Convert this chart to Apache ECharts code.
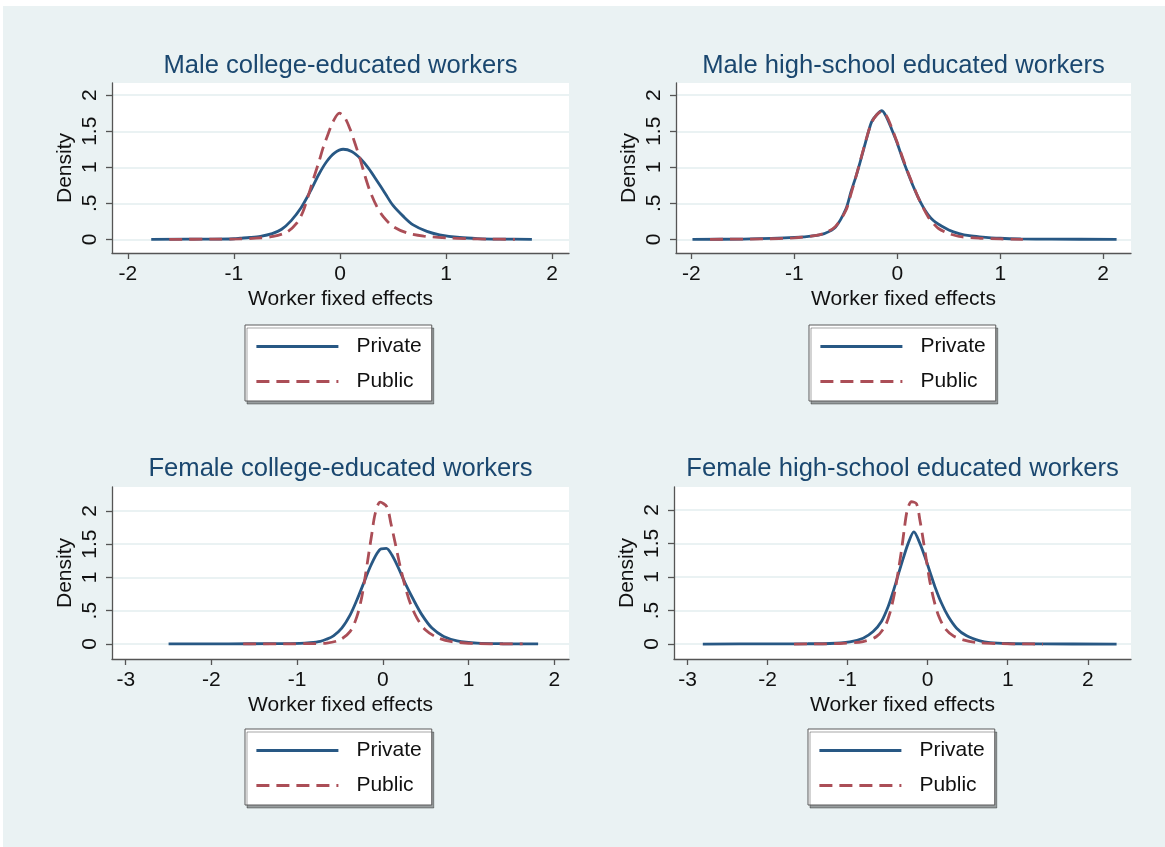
<!DOCTYPE html>
<html>
<head>
<meta charset="utf-8">
<script src="https://cdn.jsdelivr.net/npm/echarts@6/dist/echarts.min.js"></script>
<style>
html,body{margin:0;padding:0;background:#fff;}
#chart{width:1165px;height:847px;}
</style>
</head>
<body>
<div id="chart"></div>
<script>
// ---------------- DATA ----------------
const panelTitles = [
  'Male college-educated workers',
  'Male high-school educated workers',
  'Female college-educated workers',
  'Female high-school educated workers'
];
const seriesNames = ['Private', 'Public'];
const xAxisName = 'Worker fixed effects';
const yAxisName = 'Density';
const xTicksTop = [-2, -1, 0, 1, 2];
const xTicksBottom = [-3, -2, -1, 0, 1, 2];
const yTicks = [0, 0.5, 1, 1.5, 2];

// [worker fixed effect, density]
const maleCollegePrivate = [[-1.78,0],[-1.2,0.003],[-1.0,0.008],[-0.94,0.015],[-0.85,0.025],[-0.75,0.042],[-0.64,0.08],[-0.55,0.14],[-0.46,0.26],[-0.37,0.43],[-0.28,0.665],[-0.2,0.9],[-0.125,1.08],[-0.05,1.2],[0.03,1.25],[0.11,1.22],[0.19,1.125],[0.27,0.985],[0.35,0.81],[0.425,0.64],[0.5,0.47],[0.6,0.315],[0.69,0.2],[0.82,0.11],[0.94,0.063],[1.13,0.025],[1.3,0.01],[1.5,0.003],[1.81,0]];
const maleCollegePublic = [[-1.61,0],[-1.2,0.002],[-0.95,0.006],[-0.79,0.016],[-0.63,0.04],[-0.5,0.1],[-0.41,0.22],[-0.35,0.38],[-0.3,0.6],[-0.25,0.84],[-0.2,1.07],[-0.157,1.28],[-0.11,1.47],[-0.063,1.64],[-0.006,1.752],[0.048,1.683],[0.095,1.53],[0.142,1.33],[0.189,1.12],[0.236,0.88],[0.283,0.67],[0.346,0.46],[0.41,0.31],[0.5,0.18],[0.63,0.09],[0.79,0.045],[1.0,0.02],[1.2,0.009],[1.4,0.003],[1.65,0]];
const maleHighPrivate = [[-1.99,0],[-1.5,0.003],[-1.1,0.02],[-0.9,0.035],[-0.8,0.05],[-0.7,0.085],[-0.6,0.17],[-0.5,0.42],[-0.45,0.66],[-0.4,0.88],[-0.35,1.13],[-0.3,1.39],[-0.25,1.63],[-0.2,1.73],[-0.15,1.785],[-0.1,1.68],[-0.05,1.51],[0,1.33],[0.05,1.12],[0.1,0.93],[0.15,0.75],[0.2,0.59],[0.25,0.45],[0.3,0.34],[0.35,0.26],[0.4,0.21],[0.5,0.13],[0.6,0.08],[0.7,0.05],[0.8,0.035],[1.0,0.015],[1.2,0.006],[1.5,0.002],[2.13,0]];
const maleHighPublic = [[-1.82,0],[-1.3,0.006],[-1.0,0.02],[-0.8,0.05],[-0.7,0.09],[-0.6,0.18],[-0.5,0.4],[-0.45,0.63],[-0.4,0.88],[-0.35,1.14],[-0.3,1.4],[-0.25,1.62],[-0.2,1.73],[-0.15,1.78],[-0.1,1.7],[-0.05,1.53],[0,1.34],[0.05,1.14],[0.1,0.94],[0.15,0.76],[0.2,0.59],[0.25,0.44],[0.3,0.31],[0.35,0.22],[0.4,0.15],[0.5,0.08],[0.6,0.04],[0.8,0.015],[1.0,0.005],[1.22,0]];
const femaleCollegePrivate = [[-2.5,0],[-1.8,0.002],[-1.3,0.005],[-0.97,0.01],[-0.85,0.02],[-0.73,0.04],[-0.66,0.07],[-0.577,0.123],[-0.48,0.238],[-0.382,0.437],[-0.304,0.66],[-0.226,0.91],[-0.148,1.16],[-0.07,1.36],[-0.02,1.43],[0.04,1.435],[0.105,1.336],[0.183,1.136],[0.26,0.91],[0.358,0.66],[0.455,0.437],[0.572,0.238],[0.708,0.113],[0.864,0.048],[1.1,0.013],[1.4,0.003],[1.81,0]];
const femaleCollegePublic = [[-1.63,0],[-1.1,0.002],[-0.8,0.006],[-0.655,0.013],[-0.5,0.063],[-0.382,0.188],[-0.304,0.41],[-0.246,0.71],[-0.207,1.01],[-0.168,1.336],[-0.129,1.66],[-0.09,1.96],[-0.032,2.13],[0.046,2.06],[0.093,1.81],[0.144,1.51],[0.202,1.16],[0.26,0.86],[0.319,0.61],[0.397,0.388],[0.494,0.213],[0.63,0.098],[0.786,0.038],[1.06,0.008],[1.3,0.002],[1.63,0]];
const femaleHighPrivate = [[-2.81,0],[-2.0,0.002],[-1.5,0.004],[-1.225,0.008],[-0.974,0.033],[-0.807,0.087],[-0.682,0.186],[-0.578,0.335],[-0.494,0.558],[-0.432,0.78],[-0.369,1.03],[-0.306,1.276],[-0.244,1.5],[-0.173,1.672],[-0.098,1.5],[-0.035,1.3],[0.027,1.078],[0.09,0.855],[0.173,0.607],[0.257,0.409],[0.361,0.236],[0.486,0.122],[0.653,0.047],[0.778,0.022],[1.0,0.008],[1.4,0.002],[2.36,0]];
const femaleHighPublic = [[-1.67,0],[-1.3,0.003],[-1.1,0.008],[-0.807,0.037],[-0.64,0.112],[-0.536,0.26],[-0.473,0.459],[-0.411,0.78],[-0.369,1.08],[-0.327,1.4],[-0.294,1.7],[-0.256,1.99],[-0.202,2.12],[-0.14,2.09],[-0.098,1.85],[-0.056,1.55],[-0.014,1.23],[0.027,0.93],[0.077,0.657],[0.132,0.434],[0.215,0.236],[0.32,0.122],[0.445,0.062],[0.612,0.022],[0.9,0.006],[1.2,0.002],[1.44,0]];

const panelData = [
  [maleCollegePrivate, maleCollegePublic],
  [maleHighPrivate, maleHighPublic],
  [femaleCollegePrivate, femaleCollegePublic],
  [femaleHighPrivate, femaleHighPublic]
];
const panelXTicks = [xTicksTop, xTicksTop, xTicksBottom, xTicksBottom];

// ---------------- LAYOUT ----------------
const layout = [
  {left:112, top:83, width:457, height:170, xMin:-2.15, xMax:2.16, yMin:-0.19, yMax:2.17, titleTop:53, legendLeft:245, legendTop:325},
  {left:676, top:83, width:455, height:170, xMin:-2.15, xMax:2.27, yMin:-0.19, yMax:2.17, titleTop:53, legendLeft:809, legendTop:325},
  {left:112, top:487, width:457, height:172, xMin:-3.16, xMax:2.17, yMin:-0.226, yMax:2.358, titleTop:456, legendLeft:245, legendTop:729},
  {left:674, top:487, width:457, height:172, xMin:-3.17, xMax:2.54, yMin:-0.223, yMax:2.34, titleTop:456, legendLeft:808, legendTop:729}
];

const FONT = 'Liberation Sans, Arial, Helvetica, sans-serif';
const BLUE = '#285884';
const RED = '#ab4e57';
const AXIS = '#555555';
const TXT = '#111111';

const fmtY = v => (v === 0 ? '0' : String(v).replace(/^0\./, '.'));

const grids = [], xAxes = [], yAxes = [], series = [], titles = [], legends = [];
layout.forEach((L, i) => {
  grids.push({left:L.left, top:L.top, width:L.width, height:L.height, show:true, backgroundColor:'#ffffff', borderWidth:0, containLabel:false});
  xAxes.push({
    type:'value', gridIndex:i, min:L.xMin, max:L.xMax, position:'bottom',
    name:xAxisName, nameLocation:'middle', nameGap:36,
    nameTextStyle:{fontFamily:FONT, fontSize:21, color:TXT},
    axisLine:{show:true, onZero:false, lineStyle:{color:AXIS, width:1.3}},
    axisTick:{show:true, length:6, customValues:panelXTicks[i], lineStyle:{color:AXIS, width:1.3}},
    axisLabel:{customValues:panelXTicks[i], margin:11, fontFamily:FONT, fontSize:21, color:TXT, formatter: v => String(v)},
    splitLine:{show:false}
  });
  yAxes.push({
    type:'value', gridIndex:i, min:L.yMin, max:L.yMax, position:'left',
    name:yAxisName, nameLocation:'middle', nameGap:36, nameRotate:90,
    nameTextStyle:{fontFamily:FONT, fontSize:21, color:TXT},
    axisLine:{show:true, onZero:false, lineStyle:{color:AXIS, width:1.3}},
    axisTick:{show:true, length:6, customValues:yTicks, lineStyle:{color:AXIS, width:1.3}},
    axisLabel:{customValues:yTicks, rotate:90, margin:11, fontFamily:FONT, fontSize:21, color:TXT, formatter: fmtY},
    splitLine:{show:true, lineStyle:{color:'#eaf2f3', width:2}}
  });
  titles.push({
    text: panelTitles[i], left: L.left + L.width/2, top: L.titleTop, textAlign:'center', padding:0,
    textStyle:{fontFamily:FONT, fontSize:25.6, fontWeight:'normal', color:'#1a476f'}
  });
  panelData[i].forEach((d, k) => {
    series.push({
      type:'line', name:seriesNames[k], xAxisIndex:i, yAxisIndex:i, data:d,
      symbol:'none', smooth:0.3, clip:true,
      lineStyle:{color: k === 0 ? BLUE : RED, width:2.8, type: k === 0 ? 'solid' : [13, 7]},
      itemStyle:{color: k === 0 ? BLUE : RED},
      z: k === 0 ? 2 : 3
    });
  });
  legends.push({
    data: seriesNames, orient:'vertical', left:L.legendLeft, top:L.legendTop,
    padding:[11, 10, 9, 10], itemGap:14, itemWidth:82, itemHeight:21,
    backgroundColor:'#ffffff', borderColor:'#5a5a5a', borderWidth:1,
    shadowColor:'rgba(0,0,0,0.35)', shadowOffsetX:2, shadowOffsetY:3, shadowBlur:0,
    selectedMode:false,
    itemStyle:{opacity:0},
    lineStyle:{width:2.8},
    textStyle:{fontFamily:FONT, fontSize:21, color:TXT, padding:[0,0,0,13], width:68}
  });
});

const chart = echarts.init(document.getElementById('chart'), null, {renderer:'canvas'});
chart.setOption({
  backgroundColor:'#ffffff',
  animation:false,
  graphic:{elements:[{type:'rect', silent:true, z:-100, shape:{x:3, y:6, width:1162, height:841}, style:{fill:'#eaf2f3'}}]},
  title: titles,
  legend: legends,
  grid: grids,
  xAxis: xAxes,
  yAxis: yAxes,
  series: series
});
</script>
</body>
</html>
